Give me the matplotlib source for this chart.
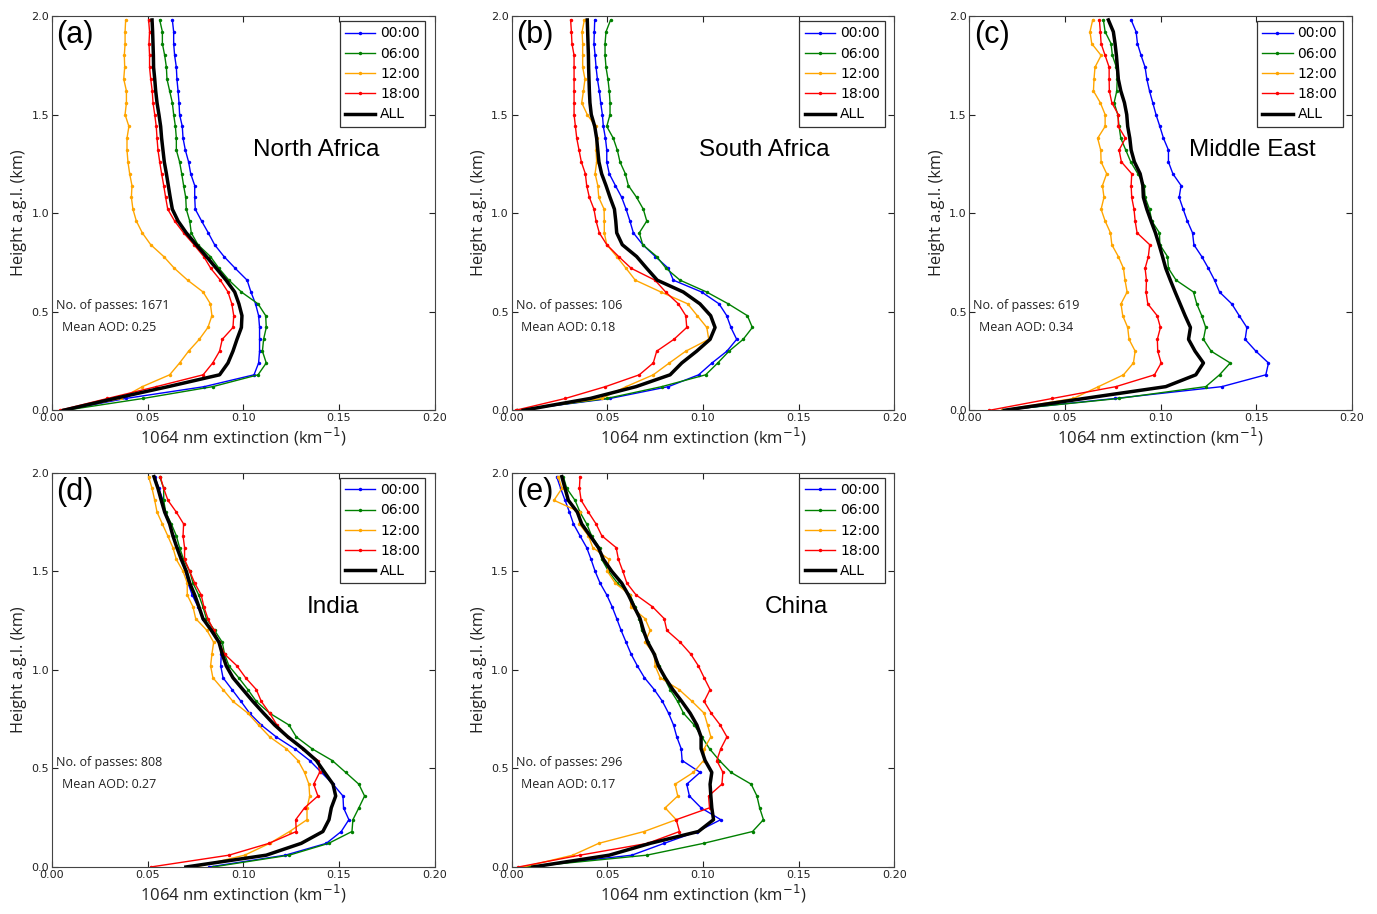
import numpy as np
import matplotlib
matplotlib.use("Agg")
import matplotlib.pyplot as plt

# altura de cada nivel (km), resolución de 60 m
height = [0.00, 0.06, 0.12, 0.18, 0.24, 0.30, 0.36, 0.42, 0.48, 0.54, 0.60,
          0.66, 0.72, 0.78, 0.84, 0.90, 0.96, 1.02, 1.08, 1.14, 1.20, 1.26,
          1.32, 1.38, 1.44, 1.50, 1.56, 1.62, 1.68, 1.74, 1.80, 1.86, 1.92, 1.98]

time_labels = ["00:00", "06:00", "12:00", "18:00", "ALL"]
time_colors = ["blue", "green", "orange", "red", "black"]

# (a) North Africa
na_00 = [0.006, 0.0385, 0.0796, 0.1056, 0.108, 0.1085, 0.1085, 0.1085, 0.108, 0.1064, 0.104, 0.102,
         0.0958, 0.0899, 0.085, 0.0817, 0.0782, 0.0749, 0.0746, 0.0746, 0.0725, 0.0714, 0.0697, 0.0685,
         0.0681, 0.0667, 0.0664, 0.0659, 0.0653, 0.065, 0.0641, 0.0636, 0.0636, 0.0629]
na_06 = [0.007, 0.0476, 0.084, 0.1077, 0.112, 0.110, 0.1106, 0.112, 0.1117, 0.1077, 0.099, 0.0925,
         0.0873, 0.0828, 0.0763, 0.0728, 0.072, 0.0702, 0.0699, 0.0688, 0.0678, 0.0667, 0.065, 0.065,
         0.0645, 0.0636, 0.0629, 0.0615, 0.0601, 0.0598, 0.0589, 0.0577, 0.0577, 0.0563]
na_12 = [0.005, 0.036, 0.0472, 0.0615, 0.0667, 0.0714, 0.077, 0.0815, 0.0836, 0.0828, 0.079, 0.0709,
         0.064, 0.0584, 0.0516, 0.0472, 0.0441, 0.0423, 0.0415, 0.0418, 0.0406, 0.0397, 0.0392, 0.0392,
         0.0402, 0.0382, 0.0389, 0.0389, 0.0375, 0.038, 0.0378, 0.0382, 0.0382, 0.0385]
na_18 = [0.004, 0.029, 0.0545, 0.079, 0.084, 0.0876, 0.089, 0.0946, 0.095, 0.094, 0.092, 0.088,
         0.083, 0.0793, 0.0742, 0.0688, 0.0641, 0.0605, 0.0594, 0.0584, 0.0573, 0.0563, 0.0554, 0.0549,
         0.0545, 0.0537, 0.0528, 0.0524, 0.0516, 0.051, 0.051, 0.0507, 0.051, 0.0505]
na_all = [0.006, 0.0327, 0.0607, 0.0876, 0.092, 0.0946, 0.0967, 0.099, 0.0993, 0.0977, 0.0955, 0.091,
          0.0859, 0.0807, 0.0754, 0.0702, 0.0659, 0.0629, 0.0618, 0.0608, 0.0598, 0.0587, 0.058, 0.0573,
          0.0568, 0.0559, 0.0549, 0.0542, 0.0537, 0.0531, 0.053, 0.0528, 0.0526, 0.0523]

# (b) South Africa
sa_00 = [0.003, 0.0514, 0.0819, 0.0977, 0.1047, 0.1125, 0.1176, 0.1146, 0.1124, 0.1084, 0.0993, 0.0845,
         0.0819, 0.0751, 0.0685, 0.0636, 0.0618, 0.0598, 0.0575, 0.0542, 0.051, 0.0497, 0.0497, 0.049,
         0.0479, 0.0474, 0.0465, 0.0458, 0.0448, 0.0441, 0.0436, 0.043, 0.0432, 0.0434]
sa_06 = [0.003, 0.0497, 0.0784, 0.1014, 0.1077, 0.1136, 0.121, 0.1258, 0.1232, 0.1132, 0.1019, 0.088,
         0.0807, 0.0758, 0.0685, 0.0667, 0.0706, 0.0688, 0.0653, 0.061, 0.0594, 0.0566, 0.0552, 0.0531,
         0.0497, 0.0514, 0.0514, 0.051, 0.0503, 0.0493, 0.0488, 0.0488, 0.0493, 0.0517]
sa_12 = [0.003, 0.047, 0.0598, 0.074, 0.0824, 0.091, 0.103, 0.102, 0.097, 0.092, 0.078, 0.0646,
         0.0598, 0.0549, 0.0497, 0.0484, 0.0484, 0.0483, 0.0455, 0.045, 0.0436, 0.0444, 0.0441, 0.0444,
         0.0439, 0.0395, 0.0366, 0.0375, 0.0383, 0.0371, 0.0371, 0.0371, 0.0368, 0.038]
sa_18 = [0.002, 0.028, 0.049, 0.0667, 0.074, 0.0758, 0.0848, 0.0915, 0.091, 0.0871, 0.0805, 0.0749,
         0.0625, 0.0559, 0.0497, 0.0458, 0.0441, 0.043, 0.0406, 0.0392, 0.0385, 0.0364, 0.0352, 0.034,
         0.0333, 0.0326, 0.0326, 0.0326, 0.0326, 0.0326, 0.0326, 0.0315, 0.0312, 0.0308]
sa_all = [0.006, 0.041, 0.065, 0.0828, 0.0889, 0.0967, 0.1037, 0.1063, 0.104, 0.0984, 0.0897, 0.0761,
          0.0706, 0.0653, 0.0578, 0.0549, 0.0544, 0.0537, 0.0514, 0.0493, 0.047, 0.0456, 0.045, 0.0444,
          0.0434, 0.0416, 0.0409, 0.0406, 0.0404, 0.0402, 0.0401, 0.0399, 0.0397, 0.0395]

# (c) Middle East
me_00 = [0.017, 0.0762, 0.132, 0.155, 0.1564, 0.1498, 0.1442, 0.1451, 0.1411, 0.1372, 0.1308, 0.1282,
         0.125, 0.1215, 0.1174, 0.1167, 0.114, 0.1118, 0.1097, 0.1107, 0.1064, 0.1041, 0.1041, 0.1015,
         0.0996, 0.0976, 0.0959, 0.0942, 0.0928, 0.0919, 0.0898, 0.0879, 0.0872, 0.0846]
me_06 = [0.017, 0.078, 0.1236, 0.1308, 0.1364, 0.1264, 0.1224, 0.1236, 0.1215, 0.1189, 0.1172, 0.1081,
         0.1041, 0.1036, 0.0996, 0.0994, 0.0954, 0.0942, 0.0919, 0.0915, 0.0881, 0.0844, 0.0818, 0.0792,
         0.0783, 0.0776, 0.0757, 0.0771, 0.0773, 0.0769, 0.0748, 0.0741, 0.071, 0.0701]
me_12 = [0.017, 0.0544, 0.0675, 0.0806, 0.0858, 0.0867, 0.0835, 0.0828, 0.0802, 0.0793, 0.0825, 0.0814,
         0.0806, 0.0779, 0.0745, 0.0738, 0.071, 0.0689, 0.0704, 0.0696, 0.0718, 0.0689, 0.0687, 0.0671,
         0.071, 0.071, 0.0685, 0.0649, 0.0652, 0.0657, 0.0689, 0.064, 0.0631, 0.0645]
me_18 = [0.0105, 0.0434, 0.0766, 0.0968, 0.1003, 0.0985, 0.0983, 0.0999, 0.0982, 0.0933, 0.0924, 0.0926,
         0.0919, 0.0936, 0.0943, 0.0877, 0.0867, 0.0861, 0.0849, 0.0846, 0.0849, 0.0795, 0.0783, 0.0816,
         0.0779, 0.0779, 0.0745, 0.0732, 0.0731, 0.0731, 0.071, 0.0689, 0.0685, 0.068]
me_all = [0.0183, 0.06, 0.1027, 0.1184, 0.1224, 0.118, 0.1146, 0.1156, 0.1128, 0.1102, 0.1076, 0.1051,
          0.1027, 0.101, 0.0992, 0.0973, 0.095, 0.0928, 0.091, 0.0907, 0.0893, 0.0863, 0.0846, 0.0839,
          0.0828, 0.0823, 0.0811, 0.0792, 0.0779, 0.0774, 0.0769, 0.0762, 0.0753, 0.0727]

# (d) India
in_00 = [0.082, 0.122, 0.1434, 0.1512, 0.1552, 0.1524, 0.1521, 0.1469, 0.1408, 0.1347, 0.1268, 0.1172,
         0.1094, 0.1033, 0.0988, 0.0941, 0.0894, 0.0882, 0.0885, 0.0876, 0.0841, 0.0789, 0.0763, 0.0733,
         0.0711, 0.0697, 0.0676, 0.0655, 0.0632, 0.0615, 0.0589, 0.058, 0.0559, 0.0537]
in_06 = [0.084, 0.124, 0.1446, 0.1568, 0.1573, 0.1604, 0.1634, 0.1604, 0.1535, 0.1465, 0.1359, 0.1277,
         0.1239, 0.1138, 0.1068, 0.1024, 0.0976, 0.0925, 0.0902, 0.089, 0.085, 0.0807, 0.0789, 0.0767,
         0.0737, 0.072, 0.0688, 0.0667, 0.065, 0.0624, 0.0594, 0.0584, 0.0584, 0.0563]
in_12 = [0.075, 0.1007, 0.1138, 0.1242, 0.1333, 0.1333, 0.1347, 0.1343, 0.132, 0.1286, 0.1225, 0.1138,
         0.108, 0.1024, 0.0946, 0.0894, 0.0841, 0.0829, 0.0836, 0.0845, 0.081, 0.0751, 0.0737, 0.0707,
         0.0707, 0.0685, 0.065, 0.0632, 0.0605, 0.0577, 0.0549, 0.0537, 0.0523, 0.0505]
in_18 = [0.0516, 0.0925, 0.1134, 0.1277, 0.1274, 0.132, 0.139, 0.1368, 0.1399, 0.139, 0.1312, 0.1233,
         0.1176, 0.1138, 0.1094, 0.1068, 0.1012, 0.0967, 0.0902, 0.0873, 0.0845, 0.0815, 0.0794, 0.078,
         0.0746, 0.072, 0.0693, 0.0693, 0.0685, 0.0688, 0.065, 0.0606, 0.0584, 0.0566]
in_all = [0.070, 0.112, 0.1303, 0.1416, 0.1448, 0.146, 0.1483, 0.1469, 0.1425, 0.1382, 0.1312, 0.1233,
          0.1164, 0.1106, 0.105, 0.0998, 0.0946, 0.0911, 0.089, 0.0873, 0.0833, 0.0789, 0.0768, 0.0746,
          0.072, 0.0702, 0.0676, 0.0653, 0.0632, 0.0615, 0.0589, 0.0571, 0.0554, 0.0533]

# (e) China
ch_00 = [0.008, 0.0628, 0.0797, 0.097, 0.1093, 0.099, 0.0929, 0.0915, 0.0985, 0.0891, 0.0886, 0.0863,
         0.0846, 0.082, 0.0788, 0.0745, 0.0694, 0.0657, 0.0624, 0.0598, 0.0572, 0.0549, 0.0525, 0.0497,
         0.0462, 0.0436, 0.0415, 0.0392, 0.0357, 0.0323, 0.0302, 0.0279, 0.0256, 0.0235]
ch_06 = [0.008, 0.0706, 0.1003, 0.1259, 0.1316, 0.1296, 0.1282, 0.1252, 0.1146, 0.1086, 0.1034, 0.0994,
         0.0954, 0.0898, 0.0867, 0.0828, 0.0797, 0.0772, 0.0745, 0.0715, 0.068, 0.0668, 0.0645, 0.0619,
         0.0553, 0.0506, 0.0471, 0.0459, 0.0418, 0.0392, 0.0357, 0.0331, 0.0288, 0.027]
ch_12 = [0.006, 0.0319, 0.0455, 0.0692, 0.086, 0.0802, 0.0868, 0.0854, 0.095, 0.1003, 0.1006, 0.1041,
         0.1024, 0.1006, 0.0943, 0.0875, 0.0776, 0.075, 0.0745, 0.0697, 0.0724, 0.0697, 0.0623, 0.0619,
         0.0541, 0.05, 0.0509, 0.0424, 0.0401, 0.0354, 0.0357, 0.0221, 0.0262, 0.0244]
ch_18 = [0.0035, 0.0357, 0.071, 0.0877, 0.086, 0.1034, 0.1029, 0.1099, 0.1104, 0.1072, 0.1093, 0.1125,
         0.109, 0.1043, 0.1006, 0.1037, 0.1006, 0.0976, 0.0936, 0.0881, 0.0811, 0.0797, 0.0736, 0.065,
         0.0602, 0.0581, 0.0558, 0.0546, 0.0471, 0.0441, 0.0401, 0.0363, 0.0354, 0.0357]
ch_all = [0.011, 0.051, 0.0724, 0.0976, 0.1055, 0.1046, 0.1041, 0.1037, 0.1046, 0.1011, 0.099, 0.099,
          0.0968, 0.0933, 0.0889, 0.0842, 0.0802, 0.0767, 0.0745, 0.0711, 0.0689, 0.0671, 0.064, 0.061,
          0.0575, 0.0523, 0.048, 0.0453, 0.041, 0.0366, 0.0343, 0.0296, 0.0279, 0.0262]

region_names = ["North Africa", "South Africa", "Middle East", "India", "China"]
panel_letters = ["(a)", "(b)", "(c)", "(d)", "(e)"]
n_passes = [1671, 106, 619, 808, 296]
mean_aod = [0.25, 0.18, 0.34, 0.27, 0.17]
name_x = [0.138, 0.132, 0.148, 0.147, 0.149]

profiles = [
    [na_00, na_06, na_12, na_18, na_all],
    [sa_00, sa_06, sa_12, sa_18, sa_all],
    [me_00, me_06, me_12, me_18, me_all],
    [in_00, in_06, in_12, in_18, in_all],
    [ch_00, ch_06, ch_12, ch_18, ch_all],
]

W, H = 1377, 914
fig = plt.figure(figsize=(W / 100, H / 100), dpi=100)

# posiciones de los paneles en píxeles (izquierda, arriba)
left_px = [52, 511.7, 969.3, 52, 511.7]
top_px = [16, 16, 16, 472.7, 472.7]
ax_w, ax_h = 382.6, 394.3

label_font = "Open Sans"

for k in range(5):
    ax = fig.add_axes([left_px[k] / W, 1 - (top_px[k] + ax_h) / H, ax_w / W, ax_h / H])
    for j in range(5):
        if j < 4:
            ax.plot(profiles[k][j], height, color=time_colors[j], lw=1.0,
                    marker="o", ms=2.5, mew=0, label=time_labels[j])
        else:
            ax.plot(profiles[k][j], height, color="black", lw=2.5, label=time_labels[j])
    ax.set_xlim(0, 0.2)
    ax.set_ylim(0, 2.0)
    ax.set_xticks([0.0, 0.05, 0.10, 0.15, 0.20])
    ax.set_xticklabels(["0.00", "0.05", "0.10", "0.15", "0.20"])
    ax.set_yticks([0.0, 0.5, 1.0, 1.5, 2.0])
    ax.set_yticklabels(["0.0", "0.5", "1.0", "1.5", "2.0"])
    ax.tick_params(direction="in", top=True, right=True, labelsize=8, length=4,
                   pad=2, colors="#222222")
    for sp in ax.spines.values():
        sp.set_color("#444444")
    ax.set_xlabel("1064 nm extinction (km$^{-1}$)", fontsize=12, family=label_font,
                  color="#222222", labelpad=2)
    ax.set_ylabel("Height a.g.l. (km)", fontsize=11.7, family=label_font,
                  color="#222222", labelpad=3)
    leg = ax.legend(loc="upper right", bbox_to_anchor=(1 - 9.3 / ax_w, 1 - 5.3 / ax_h),
                    prop={"family": "DejaVu Sans", "size": 10},
                    fancybox=False, edgecolor="#333333", framealpha=1,
                    borderaxespad=0, handlelength=2.2, handletextpad=0.35,
                    labelspacing=0.45, borderpad=0.37)
    leg.get_frame().set_linewidth(0.9)
    ax.text(0.012, 0.99, panel_letters[k], transform=ax.transAxes, fontsize=22,
            family="Liberation Sans", va="top", ha="left")
    ax.text(name_x[k], 1.32, region_names[k], fontsize=17.5, family="Liberation Sans",
            ha="center", va="center")
    ax.text(0.002, 0.53, f"No. of passes: {n_passes[k]}", fontsize=9,
            family=label_font, color="#222222", va="center")
    ax.text(0.005, 0.42, f"Mean AOD: {mean_aod[k]:.2f}", fontsize=9,
            family=label_font, color="#222222", va="center")

fig.savefig("out.png", dpi=100)
